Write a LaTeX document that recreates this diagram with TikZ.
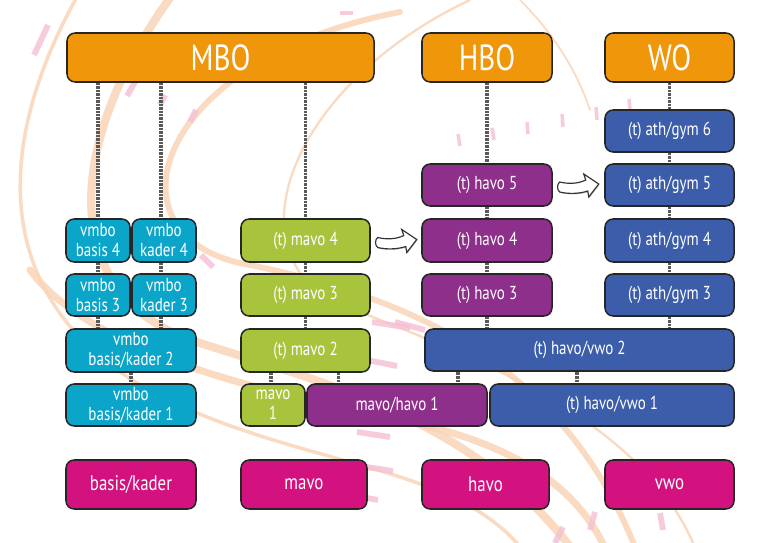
\documentclass[tikz,border=0pt]{standalone}
\usepackage{fontspec}
\setmainfont{PT Sans}[FakeStretch=0.8]
\usetikzlibrary{backgrounds,shadows}
\definecolor{cOrange}{HTML}{F0960A}
\definecolor{cCyan}{HTML}{0AA5C8}
\definecolor{cGreen}{HTML}{A8C43C}
\definecolor{cPurple}{HTML}{8E2F8C}
\definecolor{cBlue}{HTML}{3C5DAA}
\definecolor{cMagenta}{HTML}{D4127F}
\definecolor{cPeach}{HTML}{FAD4B6}
\definecolor{cPink}{HTML}{F4C0D4}
\tikzset{
  box/.style={draw=black!85, line width=1.3pt, rounded corners=7pt, text=white,
    align=center, inner sep=0pt},
  big/.style={font=\fontsize{31}{33}\selectfont},
  lbl/.style={font=\fontsize{16}{17}\selectfont},
  bot/.style={font=\fontsize{18}{20}\selectfont},
  conn/.style={draw=black!65, line width=2.6pt, dash pattern=on 0.6pt off 0.6pt},
  peach/.style={draw=cPeach, opacity=0.85, line cap=round},
  pinkdash/.style={draw=cPink, line width=5pt, opacity=0.8},
  blockarrow/.style={fill=white, draw=black!80, line width=1pt,
    drop shadow={shadow xshift=0.6pt, shadow yshift=-0.9pt, opacity=0.4}},
}
\newcommand\bx[7]{\node[box,#6,minimum width=#4*0.3mm,minimum height=#5*0.3mm] (#1) at (#2,#3) {#7};}
\begin{document}
\begin{tikzpicture}[x=0.03cm,y=-0.03cm]
\useasboundingbox (0,0) rectangle (768,543);
% top
\bx{MBO}{220.5}{57.5}{307}{49}{fill=cOrange,big}{MBO}
\bx{HBO}{487}{57.5}{130}{49}{fill=cOrange,big}{HBO}
\bx{WO}{669.5}{57.5}{129}{49}{fill=cOrange,big}{WO}
% vmbo
\bx{b4}{98}{240.5}{64}{43}{fill=cCyan,lbl}{vmbo\\basis 4}
\bx{k4}{164}{240.5}{64}{43}{fill=cCyan,lbl}{vmbo\\kader 4}
\bx{b3}{98}{295}{64}{42}{fill=cCyan,lbl}{vmbo\\basis 3}
\bx{k3}{164}{295}{64}{42}{fill=cCyan,lbl}{vmbo\\kader 3}
\bx{bk2}{131}{350.5}{130}{43}{fill=cCyan,lbl}{vmbo\\basis/kader 2}
\bx{bk1}{131}{405}{130}{42}{fill=cCyan,lbl}{vmbo\\basis/kader 1}
% mavo
\bx{m4}{305.5}{240.5}{129}{43}{fill=cGreen,lbl}{(t) mavo 4}
\bx{m3}{305.5}{295}{129}{42}{fill=cGreen,lbl}{(t) mavo 3}
\bx{m2}{305.5}{350.5}{129}{43}{fill=cGreen,lbl}{(t) mavo 2}
\bx{m1}{273}{405}{64}{42}{fill=cGreen,lbl}{mavo\\1}
\bx{mh1}{397}{405}{180}{42}{fill=cPurple,lbl}{mavo/havo 1}
% havo
\bx{h5}{487}{185}{130}{42}{fill=cPurple,lbl}{(t) havo 5}
\bx{h4}{487}{240.5}{130}{43}{fill=cPurple,lbl}{(t) havo 4}
\bx{h3}{487}{295}{130}{42}{fill=cPurple,lbl}{(t) havo 3}
\bx{hv2}{579.5}{350}{309}{42}{fill=cBlue,lbl}{(t) havo/vwo 2}
\bx{hv1}{612}{405}{244}{42}{fill=cBlue,lbl}{(t) havo/vwo 1}
% vwo
\bx{a6}{669.5}{131}{129}{42}{fill=cBlue,lbl}{(t) ath/gym 6}
\bx{a5}{669.5}{185}{129}{42}{fill=cBlue,lbl}{(t) ath/gym 5}
\bx{a4}{669.5}{240.5}{129}{43}{fill=cBlue,lbl}{(t) ath/gym 4}
\bx{a3}{669.5}{295}{129}{42}{fill=cBlue,lbl}{(t) ath/gym 3}
% bottom
\bx{Lbk}{131}{484.5}{130}{49}{fill=cMagenta,bot}{basis/kader}
\bx{Lmavo}{304}{484.5}{126}{49}{fill=cMagenta,bot}{mavo}
\bx{Lhavo}{485.5}{484.5}{127}{49}{fill=cMagenta,bot}{havo}
\bx{Lvwo}{669.5}{484.5}{129}{49}{fill=cMagenta,bot}{vwo}
% arrows
\begin{scope}[shift={(m4.east)}]
\draw[blockarrow] (7,-3) .. controls (15,-1) and (25,-1) .. (33,-5) -- (31,-11) -- (46,-1)
  -- (36,12) -- (35,6) .. controls (26,9) and (15,9) .. (7,7) .. controls (4,5) and (4,-1) .. cycle;
\end{scope}
\begin{scope}[shift={(h5.east)}]
\draw[blockarrow] (7,-3) .. controls (15,-1) and (25,-1) .. (33,-5) -- (31,-11) -- (46,-1)
  -- (36,12) -- (35,6) .. controls (26,9) and (15,9) .. (7,7) .. controls (4,5) and (4,-1) .. cycle;
\end{scope}
\begin{scope}[on background layer]
\fill[white] (0,0) rectangle (768,543);
\begin{scope}
\clip (0,0) rectangle (768,543);
\draw[peach, line width=3pt] (78,-5) .. controls (-20,170) and (0,330) .. (190,410)
  .. controls (330,470) and (470,470) .. (530,560);
\draw[peach, line width=7pt] (172,-5) .. controls (60,150) and (60,300) .. (200,343)
  .. controls (330,385) and (480,420) .. (580,560);
\draw[peach, line width=5pt] (400,12) .. controls (150,60) and (100,240) .. (250,265)
  .. controls (420,300) and (570,370) .. (640,560);
\draw[peach, line width=2pt] (470,0) .. controls (300,80) and (230,240) .. (330,300)
  .. controls (480,360) and (650,420) .. (700,560);
\draw[peach, line width=6pt] (30,270) .. controls (90,350) and (250,390) .. (400,420)
  .. controls (500,440) and (580,480) .. (610,560);
\draw[peach, line width=1.5pt] (520,0) .. controls (560,40) and (580,80) .. (590,110);
% pink dashes
\draw[pinkdash] (34,55) -- (48,25);
\draw[pinkdash] (127,96) -- (135,82);
\draw[pinkdash] (160,105) -- (165,95);
\draw[pinkdash] (190,122) -- (196,110);
\draw[pinkdash] (201,255) -- (213,267);
\draw[pinkdash, line width=4pt] (340,13) -- (353,13);
\draw[pinkdash, line width=3pt] (460,146) -- (458,134);
\draw[pinkdash, line width=3pt] (494,140) -- (492,128);
\draw[pinkdash, line width=3pt] (528,134) -- (527,122);
\draw[pinkdash, line width=3pt] (563,127) -- (562,114);
\draw[pinkdash, line width=3pt] (597,120) -- (596,107);
\draw[pinkdash, line width=3pt] (630,110) -- (629,99);
\draw[pinkdash] (372,322) -- (410,328);
\draw[pinkdash] (395,322) -- (425,330);
\draw[pinkdash] (367,360) -- (397,366);
\draw[pinkdash] (357,432) -- (390,437);
\draw[pinkdash] (353,465) -- (393,471);
\draw[pinkdash] (350,495) -- (378,500);
\draw[pinkdash] (555,543) -- (563,527);
\draw[pinkdash] (590,530) -- (595,512);
\draw[pinkdash] (660,513) -- (663,530);
\draw[pinkdash] (722,470) -- (728,500);
\end{scope}
% connectors
\draw[conn] (b4 |- MBO.south) -- (b4.north);
\draw[conn] ([xshift=-0.9mm]k4.north |- MBO.south) -- ([xshift=-0.9mm]k4.north);
\draw[conn] (m4 |- MBO.south) -- (m4.north);
\draw[conn] (HBO.south) -- (h5.north);
\draw[conn] (WO.south) -- (a6.north);
\draw[conn] (b4.south) -- (b3.north);
\draw[conn] ([xshift=-0.9mm]k4.south) -- ([xshift=-0.9mm]k3.north);
\draw[conn] (b3.south) -- (b3.south |- bk2.north);
\draw[conn] ([xshift=-0.9mm]k3.south) -- ([xshift=-0.9mm]k3.south |- bk2.north);
\draw[conn] (bk2.south) -- (bk1.north);
\draw[conn] (m4.south) -- (m3.north);
\draw[conn] (m3.south) -- (m2.north);
\draw[conn] ([xshift=-0.6mm]m1.north) -- ([xshift=-0.6mm]m1.north |- m2.south);
\draw[conn] ([xshift=9.6mm]mh1.north west) -- ([xshift=9.6mm]mh1.north west |- m2.south);
\draw[conn] (h5.south) -- (h4.north);
\draw[conn] (h4.south) -- (h3.north);
\draw[conn] (h3.south) -- (h3.south |- hv2.north);
\draw[conn] (a6.south) -- (a5.north);
\draw[conn] (a5.south) -- (a4.north);
\draw[conn] (a4.south) -- (a3.north);
\draw[conn] (a3.south) -- (a3.south |- hv2.north);
\draw[conn] ([xshift=18.3mm]mh1.north) -- ([xshift=18.3mm]mh1.north |- hv2.south);
\draw[conn] ([xshift=-10.5mm]hv1.north) -- ([xshift=-10.5mm]hv1.north |- hv2.south);
\end{scope}
\end{tikzpicture}
\end{document}
